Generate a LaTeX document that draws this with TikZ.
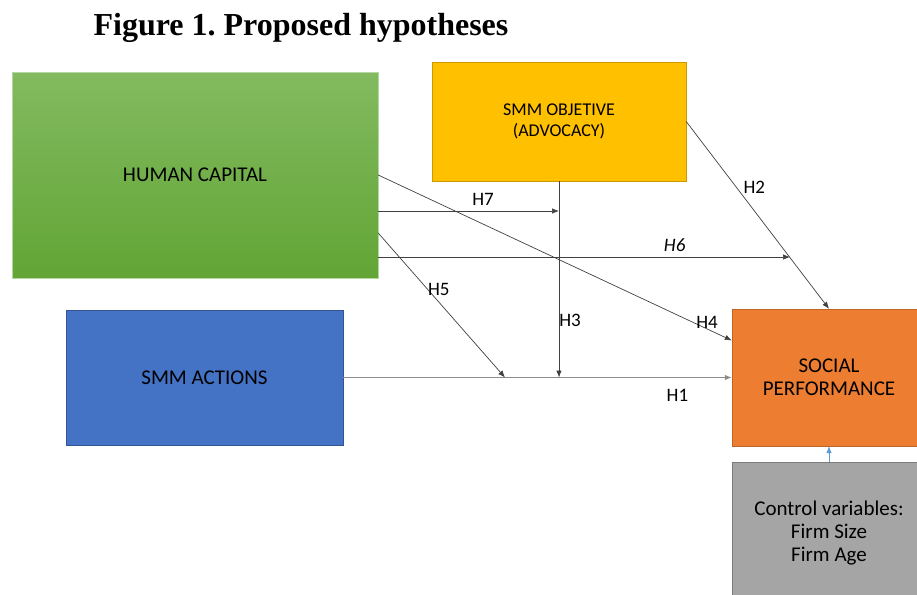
\documentclass[tikz,border=0pt]{standalone}
\usepackage{fontspec}
\setmainfont{Carlito}
\newfontfamily\titlefont{Liberation Serif}
\usetikzlibrary{arrows.meta}
\definecolor{hcTop}{RGB}{131,186,96}
\definecolor{hcBottom}{RGB}{98,165,53}
\definecolor{objFill}{RGB}{255,192,0}
\definecolor{actFill}{RGB}{68,114,196}
\definecolor{perfFill}{RGB}{237,125,49}
\definecolor{ctrlFill}{RGB}{165,165,165}
\definecolor{ctrlArrow}{RGB}{91,155,213}
\frenchspacing
\begin{document}
\begin{tikzpicture}[x=1pt,y=-1pt,>={Latex[length=7pt,width=5.5pt]},
  box/.style={draw,inner sep=0pt,align=center,font=\fontsize{21}{23}\selectfont},
  hyp/.style={draw=black!75,line width=.7pt,->},
  lab/.style={font=\fontsize{19}{22}\selectfont,inner sep=2pt}]
\useasboundingbox (0,0) rectangle (917,594);
\node[font=\titlefont\bfseries\fontsize{32}{36}\selectfont,anchor=base] (title) at (301,36) {Figure 1. Proposed hypotheses};
% constructs
\node[box,minimum width=366pt,minimum height=206pt,top color=hcTop,bottom color=hcBottom,draw=hcTop!60!white] (hc) at (195,175) {HUMAN CAPITAL};
\node[box,minimum width=254pt,minimum height=119pt,fill=objFill,draw=objFill!80!black,font=\fontsize{18}{21}\selectfont] (obj) at (559,121.5) {SMM OBJETIVE\\(ADVOCACY)};
\node[box,minimum width=277pt,minimum height=135pt,fill=actFill,draw=actFill!75!black] (act) at (204.5,377.5) {SMM ACTIONS};
\node[box,minimum width=194pt,minimum height=137pt,fill=perfFill,draw=perfFill!80!black] (perf) at (829,377.5) {SOCIAL\\PERFORMANCE};
\node[box,minimum width=194pt,minimum height=136pt,fill=ctrlFill,draw=ctrlFill!75!black] (ctrl) at (829,530) {};
\node[font=\fontsize{21}{23}\selectfont,align=center,inner sep=0pt] (ctrltext) at (829,533) {Control variables:\\Firm Size\\Firm Age};
% arrow ends on other paths
\coordinate (h7end) at (559,211);
\coordinate (h6end) at (790,257);
\coordinate (h5end) at (505,377.5);
\coordinate (h3end) at (559,377.5);
% hypotheses
\draw[hyp,draw=black!45,line width=1pt] (act.east)--node[lab,pos=.86,below=9pt]{H1}(perf.west);
\draw[hyp] (obj.east)--node[lab,pos=.35,right=5pt]{H2}(perf.north);
\draw[hyp] (obj.south)--node[lab,pos=.71,right,inner sep=0pt]{H3}(h3end);
\draw[hyp] (hc.east)--node[lab,pos=.93,yshift=7pt,inner sep=0pt]{H4}([yshift=37pt]perf.west);
\draw[hyp] ([yshift=-58pt]hc.east)--node[lab,pos=.39,right,inner sep=0pt]{H5}(h5end);
\draw[hyp] (hc.east|-h6end)--node[lab,pos=.72,above=3pt]{\textit{H6}}(h6end);
\draw[hyp] (hc.east|-h7end)--node[lab,pos=.58,above=3pt]{H7}(h7end);
\draw[->,draw=ctrlArrow,line width=.6pt] (ctrl.north)--(perf.south);
\end{tikzpicture}
\end{document}
